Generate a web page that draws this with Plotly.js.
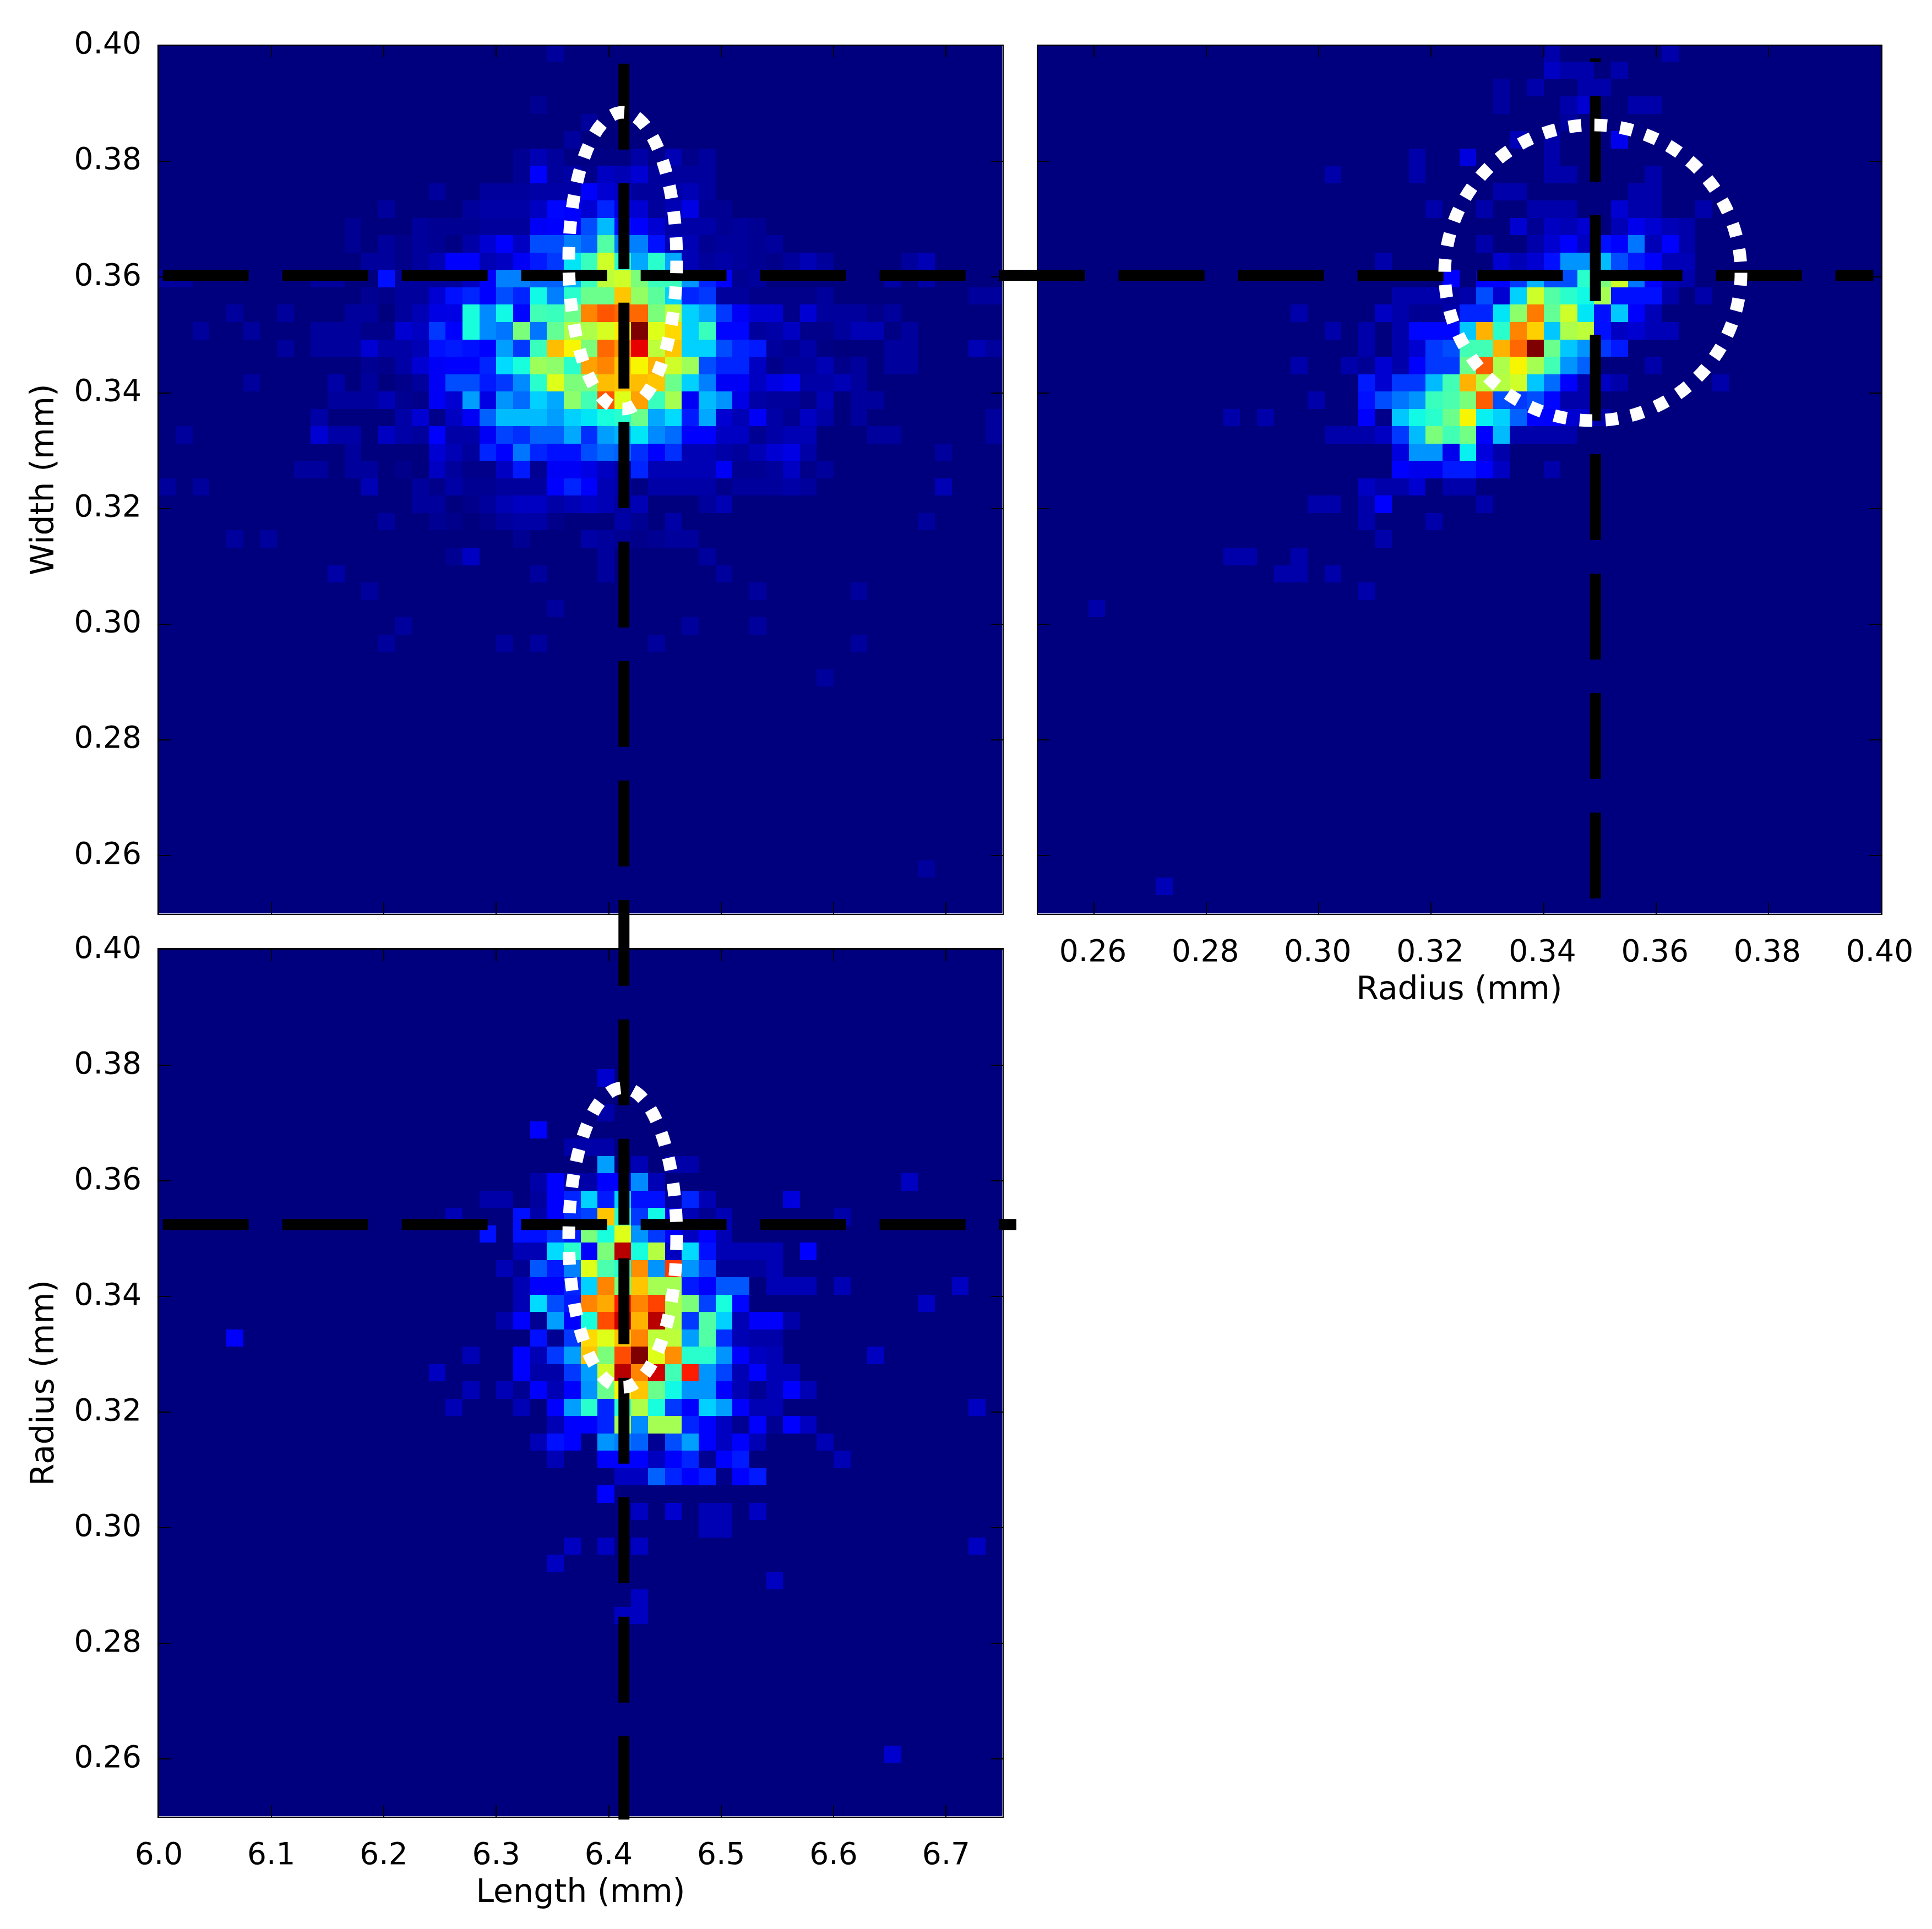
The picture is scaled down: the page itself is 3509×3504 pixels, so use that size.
<!DOCTYPE html>
<html>
<head>
<meta charset="utf-8">
<script src="https://cdn.plot.ly/plotly-3.0.1.min.js"></script>
<style>html,body{margin:0;padding:0;background:#fff}#chart{width:3509px;height:3504px}</style>
</head>
<body>
<div id="chart"></div>
<script>
// Histogram cells: [row, startColumn, value, value, ...] on a 50 x 50 grid, colour level 0-100
const widthVsLength = [
[49,23,5],[46,22,4],[45,25,5],[44,24,5],
[43,21,4,7,5,2,2,2,2,6,3,7,3,5],
[42,21,4,12,5,6,3,8,7,9,5,5,5,5],
[41,16,5],[41,19,5,5,5,6,6,6,12,9,8,5,5,6,7,5],
[40,13,5],[40,18,5,6,6,6,8,13,12,9,16,10,9,5,7,10,4,4],
[39,11,4],[39,15,5,4,4,4,5,5,5,11,12,12,20,31,14,12,9,6,6,6,4,5,4],
[38,11,4],[38,13,5,3,5,4,2,6,9,12,8,20,20,25,22,45,25,25,14,7,7,4,5,5,4,5],
[37,12,5,5,3,5,7,12,12,7,8,11,15,18,35,42,60,40,29,40,29,7,5,6,5,4,3,5,7,5],[37,44,5,7],
[36,0,5,5],[36,9,5,5],[36,13,14,5,5,5,5,8,12,25,25,22,22,30,42,58,60,50,42,42,27,16,12,4,5],[36,43,6],[36,45,6],
[35,12,4,3,5,5,9,14,16,12,20,16,37,25,40,48,48,70,53,46,33,16,18,5,5,3,3,3,3,5],[35,48,5,5],
[34,4,5],[34,7,5],[34,11,5,5,0,5,7,10,10,38,26,37,13,43,42,48,77,82,80,80,50,58,33,29,18,11,9,9,3,9,5,5,5,3,5],
[33,2,5],[33,5,5],[33,9,5,5,5,3,3,9,8,18,12,38,26,24,50,24,47,56,56,61,66,100,62,68,33,42,13,13,5,6,8,3,3,5,7,7,2,5],
[32,7,5],[32,9,5,5,5,9,6,6,7,14,15,14,12,28,18,42,71,65,50,80,75,91,58,70,33,33,20,16,15,5,4,6,2],[32,43,5,5],[32,48,7,5],
[31,12,4,3,6,9,11,12,12,16,34,38,54,52,40,74,77,70,65,72,60,54,20,16,16,8,3,5,5,7,3,5],[31,43,5,5],
[30,5,5],[30,10,6,0,5,0,3,5,11,20,20,15,18,26,40,62,50,50,71,70,71,70,48,33,25,11,11,8,10,11,6,6,7,5],
[29,10,5,5,5,7,4,3,11,9,28,10,27,23,33,29,52,43,82,62,74,42,55,11,31,27,10,6,5,5,3,7,0,5,5],
[28,9,6],[28,14,6,9,3,8,11,22,31,31,31,28,33,35,38,40,48,29,34,15,29,9,7,11,6,4,8,6,0,5],[28,49,5],
[27,1,5],[27,9,9,6,6,0,8,6,5,12,6,6,11,19,17,22,22,29,17,28,30,35,26,23,12,12,8,8,4,6,7,7],[27,42,5,5],[27,49,5],
[26,11,5],[26,16,9,7,5,16,12,24,16,14,14,20,23,22,17,12,17,7,7,6,5,7,9,10,6],[26,46,5],
[25,8,5,5,0,5,5,0,3,0,8,5,3,3,8,15,4,11,11,10,8,6,16,7,7,7,7,11,4,4,5,8,3,5],
[24,0,5,0,5],[24,12,7,0,0,5,3,6,4,4,5,5,5,12,16,12,7,6,2,6,6,6,6,3,5,5,5,6,5],[24,46,7],
[23,15,5,5,0,3,5,7,8,8,6,7,8,7,5,7],[23,32,5,7],
[22,13,5],[22,16,4,3,0,3,5,6,6,3],[22,27,6,4,0,6],[22,45,5],
[21,4,5],[21,6,5],[21,21,4],[21,25,6,5,4,3,4,5,5],
[20,17,4,8],[20,26,5],[20,32,5],
[19,10,6],[19,22,5],[19,26,5],[19,33,5],
[18,12,5],[18,35,5],[18,41,5],
[17,23,5],[16,14,5],[16,31,5],[16,35,5],
[15,13,5],[15,20,5],[15,22,5],[15,29,5],[15,41,5],
[13,39,5],[2,45,5]
];
const widthVsRadius = [
[49,30,5],[49,37,5],[48,30,7,5,5,0,5],[47,27,4],[47,29,5],[47,32,5,5],
[46,27,4],[46,31,5,8],[46,35,5,5],[45,31,4],[44,28,6],[44,30,5],[44,34,10],
[43,22,5],[43,25,9],[43,30,5],[42,17,5],[42,22,5],[42,30,5,5],[42,36,5],
[41,27,5,5],[41,35,5,5],[40,23,5],[40,26,5],[40,29,5,5,5],[40,34,8,5,5],[40,39,5],
[39,28,8,3,7,6,8,0,6,10,8,6,5],
[38,26,5],[38,29,5,8,12,7,14,12,24,6,12,5],
[37,20,5],[37,27,8,6,8,14,27,27,31,20,15,12,6,6],
[36,24,12],[36,26,12,12,18,30,20,20,40,50,60,24,11,6,5],
[35,21,5,5,5,4,5,20,8,33,60,45,40,37,55,14,14,14,5],[35,39,5],
[34,15,5],[34,20,7,5,3,3,5,16,16,35,52,78,47,60,35,14,32,12,6],
[33,17,5],[33,19,5],[33,21,5,13,13,13,32,72,40,77,69,32,56,58,14,7,8,6,6],
[32,19,5],[32,21,5,8,18,20,43,43,72,80,100,48,32,27,18,15],
[31,15,5],[31,18,5,3,8,5,12,18,18,48,81,56,65,55,43,27,22],[31,36,5],
[30,19,15,8,18,18,31,43,72,57,57,60,32,23,12,5,7,5],[30,40,5],
[29,16,5],[29,19,14,20,24,27,42,44,50,81,20,18,20,13,5,5],
[28,11,5],[28,13,5],[28,19,12,2,32,37,40,48,65,36,33,22,12,12,8,8,5],
[27,17,5,5,5,7,18,31,50,43,49,12,31,5,5,5,5],
[26,21,9,27,27,10,36,9,5],
[25,21,12,10,10,15,15,12,7],[25,30,5],
[24,19,7,5,5,8,0,5,5],
[23,16,5,5],[23,19,5,12],[23,26,5],
[22,19,5],[22,23,5],[21,20,5],[20,11,5,5],[20,15,5],[19,14,5,5],[19,17,5],[18,19,5],
[17,3,5],[1,7,6]
];
const radiusVsLength = [
[42,26,8],[40,26,5],[39,22,12],[38,24,5,5,5],[37,26,28],[37,28,6],[37,30,5,5],
[36,22,5,12,5,5,12,12,26,6],[36,44,7],
[35,19,5,5],[35,22,4,12,16,33,15,33,14,14,4,16,6],[35,37,9],
[34,17,6],[34,21,14,5,12,17,19,70,40,18,37,10,6,3,6],[34,40,5],
[33,19,14],[33,21,14,14,18,15,50,38,62,27,18,12,7,12,6],
[32,21,6,6,34,40,12,50,95,38,57,7,34,14,6,6,6,6],[32,38,12],
[31,20,6,3,21,15,25,62,44,40,76,27,85,27,19,4,4,4,6],
[30,21,6,12,12,16,33,77,50,70,55,55,15,12,21,21],[30,36,6,6,6],[30,40,6],[30,47,7],
[29,21,6,34,20,15,77,73,88,77,84,56,50,19,38,13],[29,45,7],
[28,20,5,12,3,28,12,38,83,93,72,95,56,18,45,33,6,11,11,5],
[27,4,11],[27,22,14,3,18,68,62,70,77,58,58,28,45,17,6,5,5],
[26,18,6],[26,21,12,6,18,28,70,50,83,100,62,76,40,40,27,12,7,6],[26,42,7],
[25,16,7],[25,21,12,5,5,18,28,60,95,77,93,43,88,27,19,6,12,6,6],
[24,18,6],[24,20,6,3,12,6,12,27,48,65,70,48,37,27,27,12,6,3,6,12,6],
[23,17,6],[23,21,6],[23,23,12,28,40,16,40,56,38,18,12,33,28,11,6,6],[23,48,7],
[22,23,6,12,12,16,55,26,55,55,16,12,7,3,12,3,12,7],
[21,22,6,14,12,0,27,25,22,3,20,28,12,7,12,6],[21,39,6],
[20,23,6],[20,26,12,12,12,7,12,16,3,12,15],[20,40,6],
[19,27,7,7,22,16,12,15,2,12,15],
[18,26,12],[17,28,7],[17,30,8],[17,32,6,6],[17,35,7],[16,32,6,6],
[15,24,7],[15,26,7],[15,28,7],[15,48,7],[14,23,7],[13,36,7],[12,28,7],[11,27,7,7],[3,43,8]
];

// Axis ranges and ticks
const lengthRange = [6.0, 6.75];
const mmRange = [0.25, 0.40];
const lengthTicks = [6.0,6.1,6.2,6.3,6.4,6.5,6.6,6.7];
const lengthLabels = ["6.0","6.1","6.2","6.3","6.4","6.5","6.6","6.7"];
const mmTicks = [0.26,0.28,0.30,0.32,0.34,0.36,0.38,0.40];
const mmLabels = ["0.26","0.28","0.30","0.32","0.34","0.36","0.38","0.40"];

// Cross lines run across panels, so they live on one hidden axis pair that spans the whole page
const pageX = [5.85837, 7.5751];
const pageY = [0.07492, 0.40779];
const topHorizontalX = [6.003, 7.523], topHorizontalY = [0.3603, 0.3603];
const lengthVerticalX = [6.4128, 6.4128], lengthVerticalY = [0.3968, 0.0938];
const radiusVerticalX = [7.2760, 7.2760], radiusVerticalY = [0.25275, 0.3977];
const bottomHorizontalX = [6.003, 6.7615], bottomHorizontalY = [0.1965, 0.1965];

// Confidence ellipses: [centre x, centre y, half width, half height]
const ellipseWL = [6.41245, 0.36284, 0.04798, 0.02564];
const ellipseWR = [0.34876, 0.36075, 0.02636, 0.02555];
const ellipseRL = [6.41245, 0.35014, 0.04798, 0.0259];

// How strongly faint read-off levels are pulled down to the one-count colour of each panel
const faintCurveWL = 1.8, faintCurveWR = 1.35, faintCurveRL = 1.4;

const FONT = "DejaVu Sans";
const GRID = 50;
const NAVY = '#00007f';
const jet = [
 [0,'rgb(0,0,127)'],[0.11,'rgb(0,0,255)'],[0.125,'rgb(0,0,255)'],[0.34,'rgb(0,219,255)'],
 [0.35,'rgb(0,230,247)'],[0.375,'rgb(20,255,226)'],[0.64,'rgb(239,255,8)'],[0.65,'rgb(247,246,0)'],
 [0.66,'rgb(255,236,0)'],[0.89,'rgb(255,19,0)'],[0.91,'rgb(232,0,0)'],[1,'rgb(127,0,0)']
];

function toMatrix(cells,curve){
  const z = [];
  for(let r=0;r<GRID;r++){ z.push(new Array(GRID).fill(0)); }
  cells.forEach(c=>{ for(let i=2;i<c.length;i++){
    const v=c[i];
    z[c[0]][c[1]+i-2]= v<12 ? 12*Math.pow(v/12,curve) : v;
  } });
  return z;
}
function heat(cells,curve,range,xa,ya){
  const dx=(range[1]-range[0])/GRID, dy=(mmRange[1]-mmRange[0])/GRID;
  return {type:'heatmap',z:toMatrix(cells,curve),x0:range[0]+dx/2,dx:dx,y0:mmRange[0]+0.00025+dy/2,dy:dy,
    zmin:0,zmax:100,colorscale:jet,showscale:false,xaxis:xa,yaxis:ya,hoverinfo:'skip'};
}
function dashLine(x,y){
  return {type:'scatter',mode:'lines',x:x,y:y,xaxis:'x4',yaxis:'y4',showlegend:false,hoverinfo:'skip',
    line:{color:'#000',width:20,dash:'156px,61px'}};
}
function ellipse(e,xa,ya){
  return {type:'circle',xref:xa,yref:ya,layer:'above',x0:e[0]-e[2],x1:e[0]+e[2],y0:e[1]-e[3],y1:e[1]+e[3],
    line:{color:'#fff',width:23,dash:'23px,24px'}};
}
function backdrop(xr,yr,xa,ya){
  return {type:'rect',xref:xa,yref:ya,layer:'below',x0:xr[0],x1:xr[1],y0:yr[0],y1:yr[1],fillcolor:NAVY,line:{width:0}};
}
function axis(range,domain,ticks,labels,anchor,showLabels,title,standoff,shift){
  const a = {range:range,domain:domain,anchor:anchor,tickmode:'array',tickvals:ticks,ticktext:labels,
    showticklabels:showLabels,ticks:'inside',ticklen:21,tickwidth:2,tickcolor:'#000',showgrid:false,zeroline:false,
    showline:true,linewidth:2.5,linecolor:'#000',mirror:'allticks',tickfont:{family:FONT,size:55,color:'#000'},
    ticklabelstandoff:18,ticklabelshift:shift||0};
  if(title){ a.title={text:title,font:{family:FONT,size:58.5,color:'#000'},standoff:standoff}; }
  return a;
}
const W=3509,H=3504;
const dLeft=[288.5/W,1820.5/W], dRight=[1885/W,3416/W];
const dTop=[(H-1659.5)/H,(H-83)/H], dBottom=[(H-3299.5)/H,(H-1724.5)/H];

const data = [
  heat(widthVsLength,faintCurveWL,lengthRange,'x','y'),
  heat(widthVsRadius,faintCurveWR,mmRange,'x2','y2'),
  heat(radiusVsLength,faintCurveRL,lengthRange,'x3','y3'),
  dashLine(radiusVerticalX,radiusVerticalY),
  dashLine(bottomHorizontalX,bottomHorizontalY),
  dashLine(topHorizontalX,topHorizontalY),
  dashLine(lengthVerticalX,lengthVerticalY)
];
const layout = {
  width:W,height:H,margin:{l:0,r:0,t:0,b:0},paper_bgcolor:'#fff',plot_bgcolor:'rgba(0,0,0,0)',showlegend:false,
  xaxis:axis(lengthRange,dLeft,lengthTicks,lengthLabels,'y',false),
  yaxis:axis(mmRange,dTop,mmTicks,mmLabels,'x',true,'Width (mm)',18,-5),
  xaxis2:axis(mmRange,dRight,mmTicks,mmLabels,'y2',true,'Radius (mm)',16,-2),
  yaxis2:axis(mmRange,dTop,mmTicks,mmLabels,'x2',false),
  xaxis3:axis(lengthRange,dLeft,lengthTicks,lengthLabels,'y3',true,'Length (mm)',16),
  yaxis3:axis(mmRange,dBottom,mmTicks,mmLabels,'x3',true,'Radius (mm)',18,-4),
  xaxis4:{range:pageX,domain:[0,1],anchor:'y4',visible:false},
  yaxis4:{range:pageY,domain:[0,1],anchor:'x4',visible:false},
  shapes:[
    backdrop(lengthRange,mmRange,'x','y'),backdrop(mmRange,mmRange,'x2','y2'),backdrop(lengthRange,mmRange,'x3','y3'),
    ellipse(ellipseWL,'x','y'),ellipse(ellipseWR,'x2','y2'),ellipse(ellipseRL,'x3','y3')
  ]
};
Plotly.newPlot('chart',data,layout,{displayModeBar:false,staticPlot:true});
</script>
</body>
</html>
